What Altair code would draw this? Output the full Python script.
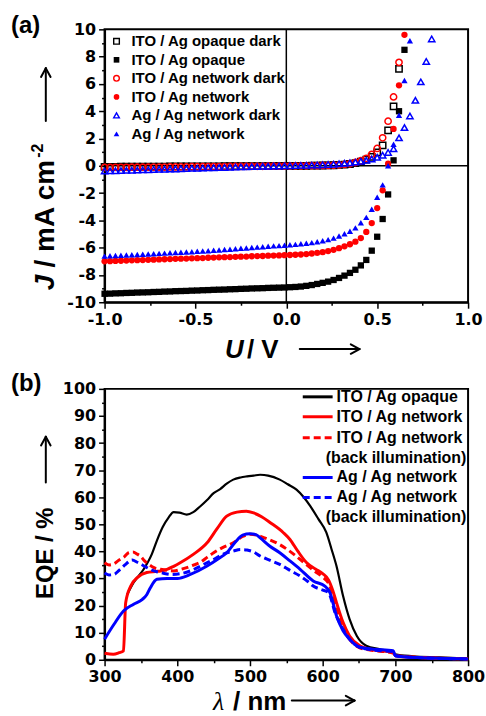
import math
import altair as alt
import pandas as pd

# ---------------- Panel (a): J-V data ----------------
U = [-1.00, -0.97, -0.94, -0.91, -0.88, -0.85, -0.82, -0.79, -0.76, -0.73,
     -0.70, -0.67, -0.64, -0.61, -0.58, -0.55, -0.52, -0.49, -0.46, -0.43,
     -0.40, -0.37, -0.34, -0.31, -0.28, -0.25, -0.22, -0.19, -0.16, -0.13,
     -0.10, -0.07, -0.04, -0.01, 0.02, 0.05, 0.08, 0.11, 0.14, 0.17,
     0.20, 0.23, 0.26, 0.29, 0.32, 0.35, 0.38, 0.41, 0.44, 0.47,
     0.50, 0.53, 0.56, 0.59, 0.62, 0.65, 0.68, 0.71, 0.74, 0.77, 0.80]

J_ito_opaque_dark = [-0.08, -0.08, -0.08, -0.07, -0.07, -0.07, -0.07, -0.06, -0.06, -0.06,
                     -0.06, -0.06, -0.05, -0.05, -0.05, -0.05, -0.05, -0.04, -0.04, -0.04,
                     -0.04, -0.04, -0.03, -0.03, -0.03, -0.03, -0.03, -0.02, -0.02, -0.02,
                     -0.02, -0.02, -0.01, -0.01,
                     -0.01, -0.01, 0.00, 0.00, 0.01, 0.01, 0.02, 0.03, 0.04, 0.06,
                     0.09, 0.13, 0.20, 0.30, 0.45, 0.66, 0.98, 1.50, 2.60, 4.35, 7.10]

J_ito_opaque = [-9.38, -9.37, -9.35, -9.34, -9.32, -9.31, -9.29, -9.28, -9.27, -9.25,
                -9.24, -9.22, -9.21, -9.19, -9.18, -9.17, -9.15, -9.14, -9.12, -9.11,
                -9.09, -9.08, -9.07, -9.05, -9.04, -9.02, -9.01, -8.99, -8.98, -8.97,
                -8.95, -8.94, -8.93, -8.92,
                -8.90, -8.88, -8.85, -8.80, -8.74, -8.66, -8.58, -8.49, -8.37, -8.22,
                -8.05, -7.85, -7.62, -7.30, -6.90, -6.22, -5.20, -3.90, -2.10, 0.40,
                4.00, 8.50]

J_ito_network_dark = [-0.12, -0.12, -0.11, -0.11, -0.11, -0.10, -0.10, -0.10, -0.10, -0.09,
                      -0.09, -0.09, -0.08, -0.08, -0.08, -0.08, -0.07, -0.07, -0.07, -0.06,
                      -0.06, -0.06, -0.06, -0.05, -0.05, -0.05, -0.04, -0.04, -0.04, -0.04,
                      -0.03, -0.03, -0.03, -0.02,
                      -0.02, -0.01, -0.01, 0.00, 0.01, 0.01, 0.02, 0.03, 0.04, 0.06,
                      0.10, 0.15, 0.24, 0.37, 0.55, 0.84, 1.27, 2.05, 3.27, 5.05, 7.58]

J_ito_network = [-7.00, -6.99, -6.97, -6.96, -6.95, -6.93, -6.92, -6.91, -6.89, -6.88,
                 -6.86, -6.85, -6.84, -6.82, -6.81, -6.80, -6.78, -6.77, -6.76, -6.74,
                 -6.73, -6.71, -6.70, -6.69, -6.67, -6.66, -6.65, -6.63, -6.62, -6.61,
                 -6.59, -6.58, -6.57, -6.55,
                 -6.54, -6.52, -6.50, -6.47, -6.43, -6.38, -6.33, -6.25, -6.16, -6.04,
                 -5.90, -5.75, -5.56, -5.30, -4.85, -4.20, -3.10, -1.80, 0.15, 2.70,
                 5.90, 9.60]

J_ag_network_dark = [-0.38, -0.37, -0.36, -0.35, -0.33, -0.32, -0.31, -0.30, -0.29, -0.27,
                     -0.26, -0.25, -0.24, -0.23, -0.21, -0.20, -0.19, -0.18, -0.17, -0.15,
                     -0.14, -0.13, -0.12, -0.11, -0.09, -0.08, -0.07, -0.06, -0.05, -0.04,
                     -0.03, -0.02, -0.01, 0.00,
                     0.01, 0.02, 0.03, 0.04, 0.05, 0.06, 0.08, 0.10, 0.12, 0.15,
                     0.18, 0.22, 0.27, 0.33, 0.40, 0.50, 0.62, 0.78, 0.98, 1.25,
                     2.05, 2.80, 3.65, 4.80, 6.15, 7.65, 9.30]

J_ag_network = [-6.62, -6.60, -6.58, -6.56, -6.54, -6.52, -6.50, -6.48, -6.46, -6.44,
                -6.42, -6.40, -6.38, -6.36, -6.34, -6.32, -6.30, -6.27, -6.25, -6.22,
                -6.19, -6.17, -6.14, -6.11, -6.08, -6.05, -6.02, -5.99, -5.96, -5.93,
                -5.90, -5.87, -5.85, -5.82,
                -5.79, -5.76, -5.72, -5.68, -5.63, -5.57, -5.50, -5.41, -5.30, -5.15,
                -4.98, -4.80, -4.55, -4.18, -3.78, -3.18, -2.30, -1.40, 0.00, 1.58,
                3.70, 6.25, 9.17]

names_a = ["ITO / Ag opaque dark", "ITO / Ag opaque", "ITO / Ag network dark",
           "ITO / Ag network", "Ag / Ag network dark", "Ag / Ag network"]

# ---------------- Panel (b): EQE data ----------------
lam_ito_opaque = [331, 340, 354, 365, 372, 380, 388, 395, 403, 413, 422, 431, 441, 450, 459,
                  468, 477, 487, 496, 505, 514, 525, 541, 552, 564, 574, 583, 594, 605, 612,
                  619, 628, 637, 647, 660, 679, 697, 700, 724, 761, 800]
eqe_ito_opaque = [24.0, 28.5, 33.5, 39.0, 44.0, 49.0, 52.5, 54.5, 54.3, 53.6, 54.5, 56.5, 59.0, 61.5, 63.0,
                  65.0, 66.5, 67.3, 67.7, 68.0, 68.3, 68.0, 66.5, 64.8, 62.8, 60.0, 56.7, 52.0, 47.0, 41.0,
                  34.6, 23.6, 15.0, 8.8, 5.2, 3.9, 2.7, 2.0, 1.3, 0.9, 0.4]

lam_ito_network = [300, 312, 320, 326, 329, 336, 345, 358, 370, 377, 386, 395, 404, 422, 441,
                   455, 468, 482, 495, 505, 516, 528, 546, 555, 566, 578, 590, 600, 608, 614,
                   619, 628, 637, 651, 665, 680, 697, 700, 720, 760, 800]
eqe_ito_network = [2.4, 2.0, 2.6, 3.3, 21.0, 27.2, 30.3, 32.2, 32.6, 32.8, 33.4, 34.5, 35.8, 38.9, 43.2,
                   48.5, 53.0, 54.5, 54.8, 54.2, 52.8, 50.6, 46.9, 44.4, 40.0, 35.8, 33.5, 31.8, 29.5, 25.5,
                   21.1, 13.8, 8.8, 5.2, 3.9, 3.3, 2.8, 1.5, 1.0, 0.6, 0.4]

lam_ito_network_back = [300, 306, 312, 320, 327, 333, 339, 345, 349, 355, 361, 368, 377, 386, 395,
                        404, 413, 423, 432, 441, 450, 463, 477, 490, 500, 510, 520, 541, 560, 578,
                        590, 600, 608, 614, 620, 628, 637, 651, 665, 697, 700, 730, 800]
eqe_ito_network_back = [35.8, 35.0, 35.3, 36.8, 38.0, 39.5, 39.8, 39.0, 38.3, 36.5, 35.2, 34.0, 33.4, 33.0, 32.8,
                        33.3, 34.0, 35.0, 36.0, 37.8, 39.5, 41.5, 43.2, 45.5, 46.3, 46.0, 45.0, 42.5, 39.0, 35.0,
                        32.5, 30.5, 28.3, 24.0, 18.5, 12.0, 7.6, 4.4, 3.6, 2.5, 1.5, 0.9, 0.3]

lam_ag_network = [300, 313, 326, 340, 352, 358, 363, 372, 386, 400, 418, 441, 455, 468, 480,
                  490, 500, 508, 514, 527, 541, 555, 569, 587, 603, 610, 619, 628, 637, 651,
                  669, 697, 700, 730, 800]
eqe_ag_network = [7.6, 13.1, 18.0, 20.5, 22.3, 24.0, 26.6, 29.7, 30.0, 30.0, 31.5, 34.6, 37.0, 39.5, 43.5,
                  46.0, 46.5, 46.2, 45.0, 42.0, 39.5, 36.5, 33.4, 29.1, 27.2, 24.8, 16.2, 10.7, 7.6, 4.6,
                  3.9, 3.3, 1.5, 0.8, 0.3]

lam_ag_network_back = [300, 306, 313, 320, 328, 338, 345, 352, 362, 372, 380, 392, 405, 420, 435,
                       450, 465, 477, 487, 496, 505, 514, 527, 541, 555, 569, 580, 587, 597, 608,
                       617, 628, 637, 651, 669, 697, 700, 730, 800]
eqe_ag_network_back = [32.0, 31.3, 31.5, 33.0, 35.0, 36.8, 36.0, 35.0, 33.5, 32.5, 32.0, 31.5, 31.8, 33.0, 35.0,
                       37.0, 39.2, 40.1, 40.7, 40.5, 39.8, 38.3, 36.8, 35.2, 33.0, 30.9, 28.8, 27.2, 26.0, 24.8,
                       17.4, 11.3, 7.6, 4.6, 3.6, 3.0, 1.5, 0.8, 0.3]

names_b = ["ITO / Ag opaque", "ITO / Ag network", "ITO / Ag network", "Ag / Ag network", "Ag / Ag network"]
back_label = "(back illumination)"

# ---------------- styling helpers ----------------
BLACK, RED, BLUE = "#000000", "#ff0000", "#0000ff"
SANS = "Liberation Sans"
TICKFONT = "DejaVu Sans"
one = pd.DataFrame({"k": [0]})
MINUS = "\u2212"


def make_axis(values, major_test, fmt):
    return alt.Axis(
        values=values,
        labelExpr=f"({major_test}) ? replace(format(datum.value, '{fmt}'), '{MINUS}', '-') : ''",
        tickSize={"condition": {"test": major_test, "value": 6}, "value": 3},
        tickWidth=1.5, tickColor=BLACK,
        domainColor=BLACK, domainWidth=2,
        labelFont=TICKFONT, labelFontSize=16, labelFontWeight="bold", labelColor=BLACK,
        labelPadding=3, labelFlush=False, labelOverlap=False,
        grid=False, title=None,
    )


def txt(text, x, y, size, style="normal", weight="bold", font=SANS, align="left",
        baseline="alphabetic", angle=0):
    kw = dict(text=text, font=font, fontSize=size, fontWeight=weight, fontStyle=style,
              align=align, baseline=baseline, color=BLACK)
    if angle:
        kw["angle"] = angle
    return alt.Chart(one).mark_text(**kw).encode(x=alt.value(x), y=alt.value(y))


def seg(x1, y1, x2, y2, w=2):
    return (alt.Chart(one).mark_rule(color=BLACK, strokeWidth=w, strokeCap="round")
            .encode(x=alt.value(x1), y=alt.value(y1), x2=alt.value(x2), y2=alt.value(y2)))


def arrow(x1, y1, x2, y2, head=10, spread=0.5):
    ang = math.atan2(y2 - y1, x2 - x1)
    out = [seg(x1, y1, x2, y2)]
    for s in (1, -1):
        a = ang + math.pi + s * spread
        out.append(seg(x2 + head * math.cos(a), y2 + head * math.sin(a), x2, y2))
    return out


# ---------------- Panel (a) ----------------
xa_axis = make_axis([-1, -0.75, -0.5, -0.25, 0, 0.25, 0.5, 0.75, 1],
                    "abs(datum.value*2 - round(datum.value*2)) < 0.001", ".1f")
ya_axis = make_axis(list(range(-10, 11)), "datum.value % 2 == 0", "d")
xa_scale = alt.Scale(domain=[-1, 1], nice=False, zero=False)
ya_scale = alt.Scale(domain=[-10, 10], nice=False, zero=False)

styles_a = [("square", BLACK, False), ("square", BLACK, True),
            ("circle", RED, False), ("circle", RED, True),
            ("triangle-up", BLUE, False), ("triangle-up", BLUE, True)]
series_a = [J_ito_opaque_dark, J_ito_opaque, J_ito_network_dark,
            J_ito_network, J_ag_network_dark, J_ag_network]

layers_a = []
layers_a.append(
    alt.Chart(pd.DataFrame({"U": [0]})).mark_rule(color=BLACK, strokeWidth=1.5)
    .encode(x=alt.X("U:Q", scale=xa_scale, axis=xa_axis))
)
layers_a.append(
    alt.Chart(pd.DataFrame({"J": [0]})).mark_rule(color=BLACK, strokeWidth=1.5)
    .encode(y=alt.Y("J:Q", scale=ya_scale, axis=ya_axis))
)
for name, J, (shape, col, filled) in zip(names_a, series_a, styles_a):
    df = pd.DataFrame({"U": U[:len(J)], "J": J, "series": name})
    layers_a.append(
        alt.Chart(df).mark_point(shape=shape, filled=filled, color=col, size=40,
                                 strokeWidth=1.5, opacity=1)
        .encode(x=alt.X("U:Q", scale=xa_scale, axis=xa_axis),
                y=alt.Y("J:Q", scale=ya_scale, axis=ya_axis))
    )

# legend (a)
leg_y_a = [12, 30.6, 49.2, 67.8, 86.4, 105]
for name, (shape, col, filled), yy in zip(names_a, styles_a, leg_y_a):
    layers_a.append(
        alt.Chart(one).mark_point(shape=shape, filled=filled, color=col, size=32,
                                  strokeWidth=1.4, opacity=1)
        .encode(x=alt.value(12), y=alt.value(yy))
    )
    layers_a.append(txt(name, 27, yy, 15, baseline="middle"))

# titles (a)
layers_a += [
    txt("(a)", -94, 4, 24),
    txt("J", -59, 262, 28, style="italic", baseline="middle", angle=270),
    txt("/ mA cm", -59, 239, 28, baseline="middle", angle=270),
    txt("-2", -67, 129, 16, baseline="middle", angle=270),
    txt("U", 121, 330, 26, style="italic"),
    txt("/ V", 143, 330, 26),
]
layers_a += arrow(-59, 92, -59, 39)
layers_a += arrow(196, 321, 256, 321)

panel_a = alt.layer(*layers_a).properties(width=365, height=274)

# ---------------- Panel (b) ----------------
xb_axis = make_axis(list(range(300, 801, 50)), "datum.value % 100 == 0", "d")
yb_axis = make_axis(list(range(0, 101, 5)), "datum.value % 10 == 0", "d")
xb_scale = alt.Scale(domain=[300, 800], nice=False, zero=False)
yb_scale = alt.Scale(domain=[0, 100], nice=False, zero=False)

series_b = [(lam_ito_opaque, eqe_ito_opaque, BLACK, None, 2.2),
            (lam_ito_network, eqe_ito_network, RED, None, 3),
            (lam_ito_network_back, eqe_ito_network_back, RED, [7, 4], 3),
            (lam_ag_network, eqe_ag_network, BLUE, None, 3),
            (lam_ag_network_back, eqe_ag_network_back, BLUE, [7, 4], 3)]

layers_b = []
for name, (lam, eqe, col, dash, w) in zip(names_b, series_b):
    df = pd.DataFrame({"lam": lam, "eqe": eqe, "series": name})
    kw = dict(color=col, strokeWidth=w, interpolate="monotone")
    if dash:
        kw["strokeDash"] = dash
    layers_b.append(
        alt.Chart(df).mark_line(**kw)
        .encode(x=alt.X("lam:Q", scale=xb_scale, axis=xb_axis),
                y=alt.Y("eqe:Q", scale=yb_scale, axis=yb_axis))
    )

# legend (b)
leg_rows_b = [8, 28, 49, 89, 109]
for name, (lam, eqe, col, dash, w), yy in zip(names_b, series_b, leg_rows_b):
    kw = dict(color=col, strokeWidth=3)
    if dash:
        kw["strokeDash"] = dash
    layers_b.append(
        alt.Chart(one).mark_rule(**kw)
        .encode(x=alt.value(199), x2=alt.value(229), y=alt.value(yy))
    )
    layers_b.append(txt(name, 233, yy, 16, baseline="middle"))
layers_b.append(txt(back_label, 222, 69, 16, baseline="middle"))
layers_b.append(txt(back_label, 222, 129, 16, baseline="middle"))

# titles (b)
layers_b += [
    txt("(b)", -94, 2, 24),
    txt("EQE / %", -59, 211, 24, baseline="middle", angle=270),
    txt("\u03bb", 109, 322, 26, style="italic", weight="normal", font="Liberation Serif"),
    txt("/ nm", 129, 322, 26),
]
layers_b += arrow(-59, 94, -59, 48)
layers_b += arrow(188, 313, 251, 313)

panel_b = alt.layer(*layers_b).properties(width=365, height=272)

chart = (
    alt.vconcat(panel_a, panel_b, spacing=87, bounds="flush")
    .properties(padding={"left": 10, "top": 12, "right": 0, "bottom": 0},
                background="white")
    .configure_view(stroke=BLACK, strokeWidth=2)
)

chart.save("out.html", embed_options={"renderer": "svg", "actions": False})
